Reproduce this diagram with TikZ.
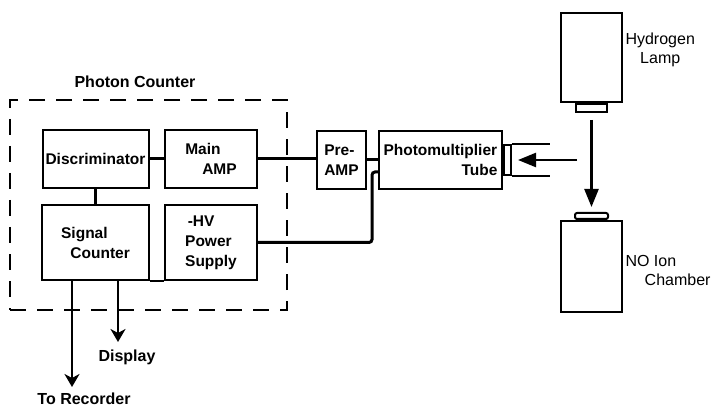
\documentclass[tikz,border=0pt]{standalone}
\usepackage{fontspec}
\setmainfont{Liberation Sans}
\usetikzlibrary{arrows.meta}

\begin{document}
\begin{tikzpicture}[
    x=1pt, y=-1pt,
    box_style/.style={draw, line width=2pt, inner sep=1pt, font=\fontsize{15.5}{20}\selectfont\bfseries, align=left},
    part_style/.style={draw, line width=2pt, inner sep=0pt},
    wire_style/.style={line width=3pt},
    beam_style/.style={line width=2.4pt, -{Triangle[length=18pt, width=14pt]}},
    out_style/.style={line width=2.4pt, -{Stealth[length=13pt, width=15pt, inset=4pt]}},
    label_style/.style={font=\fontsize{16}{19}\selectfont\bfseries, align=center},
    name_style/.style={font=\fontsize{16}{19}\selectfont, anchor=west}
]
\useasboundingbox (0,0) rectangle (721,409);
% Photon counter enclosure
\node[draw, dash pattern=on 16pt off 11pt, line width=2pt, minimum width=277pt, minimum height=210pt, inner sep=0pt] (pc) at (148.5,205) {};
\node[label_style] (pctitle) at (135,82) {Photon Counter};
% Electronics
\node[box_style, minimum width=106pt, minimum height=58pt] (disc) at (95.5,159) {Discriminator};
\node[box_style, minimum width=92pt, minimum height=58pt] (mainamp) at (211,159) {Main\\\hspace*{1.1em}AMP};
\node[box_style, minimum width=107pt, minimum height=75pt] (sigcnt) at (95.5,242.5) {Signal\\\hspace*{0.6em}Counter};
\node[box_style, minimum width=92pt, minimum height=75pt] (hv) at (211,242.5) {\,-HV\\Power\\Supply};
\node[box_style, minimum width=49pt, minimum height=58pt] (preamp) at (341.5,160) {Pre-\\AMP};
\node[box_style, minimum width=123pt, minimum height=58pt, text width=114pt] (pmt) at (440.5,160) {Photomultiplier\\\hspace*{\fill}Tube};
\node[part_style, minimum width=7pt, minimum height=30pt, anchor=west] (window) at (pmt.east) {};
\draw[line width=2pt] (window.north east) -- ++(38,0);
\draw[line width=2pt] (window.south east) -- ++(38,0);
% Lamp and ion chamber
\node[part_style, minimum width=61pt, minimum height=89pt] (lamp) at (591.5,57.5) {};
\node[part_style, minimum width=31pt, minimum height=8pt, anchor=north] (lampcap) at (lamp.south) {};
\node[part_style, minimum width=61pt, minimum height=91pt] (chamber) at (591.5,266.5) {};
\node[part_style, rounded corners=2pt, minimum width=33pt, minimum height=6pt, anchor=south] (chamcap) at (chamber.north) {};
\node[name_style, align=center] (lamptext) at (622,50) {Hydrogen\\Lamp};
\node[name_style, align=left] (chamtext) at (622,270) {NO Ion\\\hspace*{1.2em}Chamber};
% Wiring
\draw[wire_style] (disc) -- (mainamp);
\draw[wire_style] (disc) -- (sigcnt);
\draw[wire_style] (mainamp.east) -- (mainamp.east -| preamp.west);
\draw[wire_style] (preamp) -- (pmt);
\coordinate (hvbend) at (372,172);
\draw[wire_style, rounded corners=3pt] (hv.east) -| (hvbend) -- (hvbend -| pmt.west);
\draw[line width=2pt] (sigcnt.south east) -- (hv.south west);
% Light path
\coordinate (lightsrc) at (577,160);
\draw[beam_style, shorten >=6pt] (lightsrc) -- (window.east);
\draw[beam_style, shorten <=7pt, shorten >=5pt] (lampcap) -- (chamcap);
% Outputs
\coordinate (rec) at (72,387);
\coordinate (disp) at (118,342);
\draw[out_style] (sigcnt.south -| rec) -- (rec);
\draw[out_style] (sigcnt.south -| disp) -- (disp);
\node[label_style] (disptext) at (127,357) {Display};
\node[label_style] (rectext) at (84,399) {To Recorder};
\end{tikzpicture}
\end{document}
